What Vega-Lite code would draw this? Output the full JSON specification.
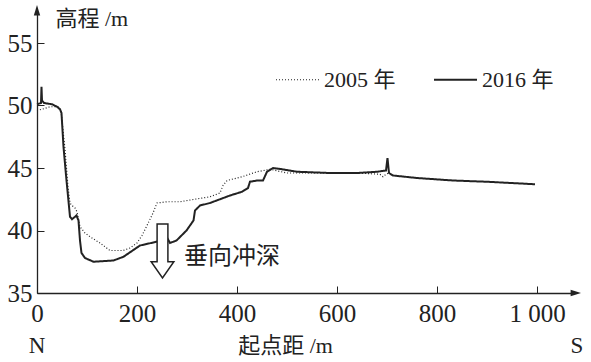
{
  "$schema": "https://vega.github.io/schema/vega-lite/v6.json",
  "autosize": {"type": "none"},
  "padding": {"left": 37, "top": 13, "right": 18, "bottom": 69},
  "width": 536,
  "height": 280,
  "background": "white",
  "config": {
    "view": {"stroke": null},
    "font": "Liberation Serif, Noto Sans CJK SC",
    "axis": {
      "grid": false,
      "domainColor": "#222",
      "domainWidth": 1.3,
      "tickColor": "#222",
      "tickWidth": 1,
      "labelFont": "Liberation Serif, Noto Sans CJK SC",
      "labelFontSize": 25,
      "labelColor": "#222",
      "titleFont": "Liberation Serif, Noto Sans CJK SC",
      "titleFontSize": 22,
      "titleFontWeight": "normal",
      "titleColor": "#222"
    }
  },
  "encoding": {
    "x": {
      "field": "x", "type": "quantitative",
      "scale": {"domain": [0, 1072], "nice": false, "zero": false},
      "axis": {
        "values": [0, 200, 400, 600, 800, 1000],
        "format": ",d",
        "labelExpr": "replace(datum.label, ',', ' ')",
        "tickSize": -7,
        "labelPadding": 15,
        "labelFlush": false,
        "labelOverlap": false,
        "title": "起点距 /m",
        "titleX": 248,
        "titleY": 52,
        "titleAnchor": null,
        "titleAlign": "center",
        "titleBaseline": "middle"
      }
    },
    "y": {
      "field": "y", "type": "quantitative",
      "scale": {"domain": [35, 57.4], "nice": false, "zero": false},
      "axis": {
        "values": [35, 40, 45, 50, 55],
        "tickSize": -7,
        "labelPadding": 12,
        "labelFlush": false,
        "labelOverlap": false,
        "title": "高程 /m",
        "titleAngle": 0,
        "titleX": 18,
        "titleY": 5,
        "titleAlign": "left",
        "titleBaseline": "middle"
      }
    }
  },
  "layer": [
    {
      "data": {"values": [
        {"x": 0, "y": 49.6, "year": "2005 年"},
        {"x": 10, "y": 49.7, "year": "2005 年"},
        {"x": 26, "y": 49.9, "year": "2005 年"},
        {"x": 42, "y": 49.9, "year": "2005 年"},
        {"x": 48, "y": 49.6, "year": "2005 年"},
        {"x": 52, "y": 48.0, "year": "2005 年"},
        {"x": 56, "y": 46.5, "year": "2005 年"},
        {"x": 62, "y": 43.5, "year": "2005 年"},
        {"x": 66, "y": 42.2, "year": "2005 年"},
        {"x": 70, "y": 42.0, "year": "2005 年"},
        {"x": 76, "y": 41.8, "year": "2005 年"},
        {"x": 80, "y": 41.5, "year": "2005 年"},
        {"x": 86, "y": 40.3, "year": "2005 年"},
        {"x": 96, "y": 39.8, "year": "2005 年"},
        {"x": 106, "y": 39.5, "year": "2005 年"},
        {"x": 126, "y": 39.0, "year": "2005 年"},
        {"x": 146, "y": 38.4, "year": "2005 年"},
        {"x": 172, "y": 38.4, "year": "2005 年"},
        {"x": 186, "y": 38.6, "year": "2005 年"},
        {"x": 200, "y": 39.0, "year": "2005 年"},
        {"x": 210, "y": 39.6, "year": "2005 年"},
        {"x": 220, "y": 40.4, "year": "2005 年"},
        {"x": 232, "y": 41.4, "year": "2005 年"},
        {"x": 240, "y": 42.2, "year": "2005 年"},
        {"x": 260, "y": 42.3, "year": "2005 年"},
        {"x": 286, "y": 42.3, "year": "2005 年"},
        {"x": 316, "y": 42.5, "year": "2005 年"},
        {"x": 346, "y": 42.7, "year": "2005 年"},
        {"x": 366, "y": 43.0, "year": "2005 年"},
        {"x": 372, "y": 43.6, "year": "2005 年"},
        {"x": 380, "y": 44.0, "year": "2005 年"},
        {"x": 410, "y": 44.3, "year": "2005 年"},
        {"x": 440, "y": 44.7, "year": "2005 年"},
        {"x": 466, "y": 44.9, "year": "2005 年"},
        {"x": 500, "y": 44.6, "year": "2005 年"},
        {"x": 560, "y": 44.6, "year": "2005 年"},
        {"x": 640, "y": 44.6, "year": "2005 年"},
        {"x": 686, "y": 44.5, "year": "2005 年"},
        {"x": 692, "y": 44.3, "year": "2005 年"},
        {"x": 698, "y": 44.5, "year": "2005 年"},
        {"x": 704, "y": 44.6, "year": "2005 年"},

        {"x": 0, "y": 50.1, "year": "2016 年"},
        {"x": 8, "y": 50.2, "year": "2016 年"},
        {"x": 9, "y": 51.5, "year": "2016 年"},
        {"x": 10, "y": 50.4, "year": "2016 年"},
        {"x": 14, "y": 50.2, "year": "2016 年"},
        {"x": 30, "y": 50.1, "year": "2016 年"},
        {"x": 40, "y": 49.9, "year": "2016 年"},
        {"x": 46, "y": 49.7, "year": "2016 年"},
        {"x": 49, "y": 49.4, "year": "2016 年"},
        {"x": 53, "y": 46.7, "year": "2016 年"},
        {"x": 59, "y": 44.0, "year": "2016 年"},
        {"x": 66, "y": 41.1, "year": "2016 年"},
        {"x": 70, "y": 40.9, "year": "2016 年"},
        {"x": 79, "y": 41.2, "year": "2016 年"},
        {"x": 83, "y": 40.8, "year": "2016 年"},
        {"x": 86, "y": 39.2, "year": "2016 年"},
        {"x": 89, "y": 38.2, "year": "2016 年"},
        {"x": 96, "y": 37.8, "year": "2016 年"},
        {"x": 113, "y": 37.5, "year": "2016 年"},
        {"x": 153, "y": 37.6, "year": "2016 年"},
        {"x": 173, "y": 37.9, "year": "2016 年"},
        {"x": 206, "y": 38.8, "year": "2016 年"},
        {"x": 239, "y": 39.1, "year": "2016 年"},
        {"x": 253, "y": 39.3, "year": "2016 年"},
        {"x": 259, "y": 39.5, "year": "2016 年"},
        {"x": 266, "y": 39.0, "year": "2016 年"},
        {"x": 279, "y": 39.2, "year": "2016 年"},
        {"x": 299, "y": 40.0, "year": "2016 年"},
        {"x": 313, "y": 40.8, "year": "2016 年"},
        {"x": 316, "y": 41.6, "year": "2016 年"},
        {"x": 326, "y": 42.0, "year": "2016 年"},
        {"x": 346, "y": 42.2, "year": "2016 年"},
        {"x": 386, "y": 42.8, "year": "2016 年"},
        {"x": 410, "y": 43.1, "year": "2016 年"},
        {"x": 422, "y": 43.4, "year": "2016 年"},
        {"x": 426, "y": 43.9, "year": "2016 年"},
        {"x": 440, "y": 44.0, "year": "2016 年"},
        {"x": 452, "y": 44.0, "year": "2016 年"},
        {"x": 460, "y": 44.7, "year": "2016 年"},
        {"x": 472, "y": 45.0, "year": "2016 年"},
        {"x": 490, "y": 44.9, "year": "2016 年"},
        {"x": 520, "y": 44.7, "year": "2016 年"},
        {"x": 586, "y": 44.6, "year": "2016 年"},
        {"x": 640, "y": 44.6, "year": "2016 年"},
        {"x": 680, "y": 44.7, "year": "2016 年"},
        {"x": 698, "y": 44.8, "year": "2016 年"},
        {"x": 701, "y": 45.8, "year": "2016 年"},
        {"x": 704, "y": 44.6, "year": "2016 年"},
        {"x": 712, "y": 44.4, "year": "2016 年"},
        {"x": 760, "y": 44.2, "year": "2016 年"},
        {"x": 832, "y": 44.0, "year": "2016 年"},
        {"x": 900, "y": 43.9, "year": "2016 年"},
        {"x": 996, "y": 43.7, "year": "2016 年"}
      ]},
      "mark": {"type": "line", "color": "#222", "strokeCap": "butt"},
      "encoding": {
        "strokeDash": {
          "field": "year", "type": "nominal",
          "scale": {"domain": ["2005 年", "2016 年"], "range": [[1, 2], [1, 0]]},
          "legend": {
            "title": null,
            "orient": "none",
            "legendX": 238,
            "legendY": 44,
            "direction": "horizontal",
            "symbolType": "stroke",
            "symbolSize": 1849,
            "symbolStrokeColor": "#222",
            "labelFont": "Liberation Serif, Noto Sans CJK SC",
            "labelFontSize": 22,
            "labelColor": "#222",
            "labelOffset": 4,
            "columnPadding": 34
          }
        },
        "strokeWidth": {
          "field": "year", "type": "nominal",
          "scale": {"domain": ["2005 年", "2016 年"], "range": [1.2, 2]},
          "legend": null
        }
      }
    },
    {
      "data": {"values": [{"x": 251, "y": 38.36}]},
      "mark": {
        "type": "point",
        "shape": "M -0.2 -1 L 0.2 -1 L 0.2 0.4 L 0.42 0.4 L 0 1 L -0.42 0.4 L -0.2 0.4 Z",
        "size": 2916,
        "filled": true,
        "fill": "white",
        "stroke": "#222",
        "strokeWidth": 1.5,
        "opacity": 1
      }
    },
    {
      "data": {"values": [{"x": 294, "y": 37.9, "label": "垂向冲深"}]},
      "mark": {"type": "text", "align": "left", "baseline": "middle", "fontSize": 24, "color": "#222", "font": "Noto Sans CJK SC"},
      "encoding": {"text": {"field": "label"}}
    },
    {
      "data": {"values": [{"x": 0, "y": 30.8, "label": "N"}, {"x": 1080, "y": 30.8, "label": "S"}]},
      "mark": {"type": "text", "align": "center", "baseline": "middle", "fontSize": 23, "color": "#222"},
      "encoding": {"text": {"field": "label"}}
    },
    {
      "data": {"values": [{"x": 0, "y": 57.4}]},
      "mark": {"type": "point", "shape": "M 0 -1 L 0.4 0.3 L -0.4 0.3 Z", "size": 256, "filled": true, "color": "#222", "opacity": 1}
    },
    {
      "data": {"values": [{"x": 1072, "y": 35}]},
      "mark": {"type": "point", "shape": "M 1 0 L -0.3 0.4 L -0.3 -0.4 Z", "size": 256, "filled": true, "color": "#222", "opacity": 1}
    }
  ]
}
